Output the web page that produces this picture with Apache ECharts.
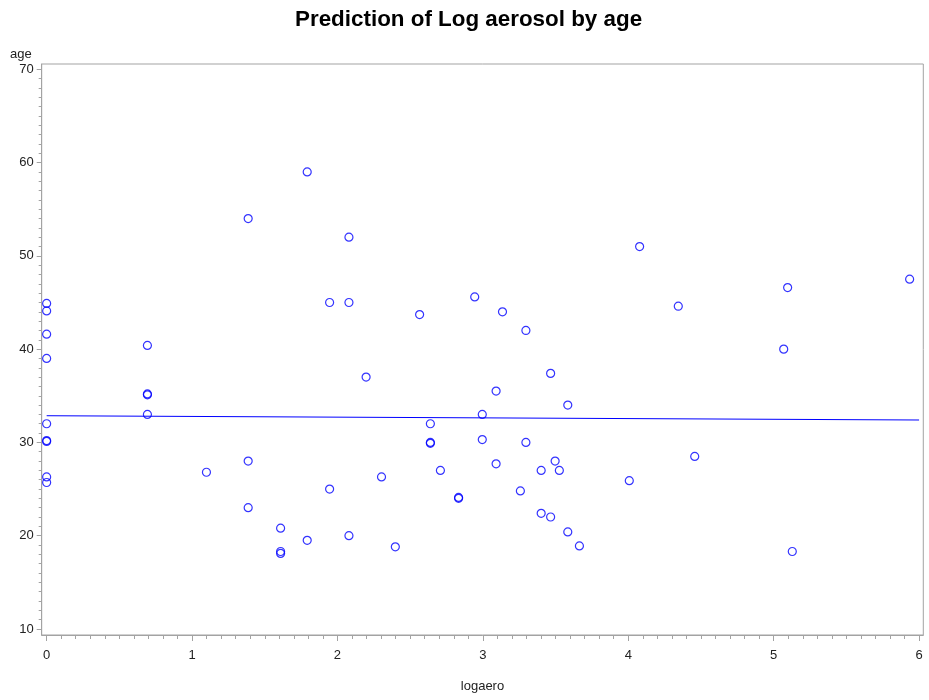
<!DOCTYPE html>
<html>
<head>
<meta charset="utf-8">
<script src="https://cdn.jsdelivr.net/npm/echarts@6/dist/echarts.min.js"></script>
<style>html,body{margin:0;padding:0;background:#fff}#c{width:929px;height:700px}</style>
</head>
<body>
<div id="c"></div>
<script>
// ---- data ----
const logaero = [
  0, 0, 0, 0, 0, 0, 0, 0, 0,
  0.693, 0.693, 0.693, 0.693,
  1.099,
  1.386, 1.386, 1.386,
  1.609, 1.609, 1.609,
  1.792, 1.792,
  1.946, 1.946,
  2.079, 2.079, 2.079,
  2.197, 2.303, 2.398, 2.565,
  2.639, 2.639, 2.639,
  2.708,
  2.833, 2.833,
  2.944,
  2.996, 2.996,
  3.091, 3.091,
  3.135, 3.258,
  3.296, 3.296,
  3.401, 3.401,
  3.466, 3.466,
  3.497, 3.526,
  3.584, 3.584,
  3.664, 4.007, 4.078, 4.344, 4.457,
  5.069, 5.096, 5.128, 5.935
];
const age = [
  44.9, 44.1, 41.6, 39.0, 32.0, 30.2, 30.1, 26.3, 25.7,
  40.4, 35.2, 35.1, 33.0,
  26.8,
  54.0, 28.0, 23.0,
  20.8, 18.3, 18.1,
  59.0, 19.5,
  45.0, 25.0,
  52.0, 45.0, 20.0,
  37.0, 26.3, 18.8, 43.7,
  32.0, 30.0, 29.9,
  27.0,
  24.0, 24.1,
  45.6,
  33.0, 30.3,
  35.5, 27.7,
  44.0, 24.8,
  42.0, 30.0,
  27.0, 22.4,
  37.4, 22.0,
  28.0, 27.0,
  34.0, 20.4,
  18.9, 25.9, 51.0, 44.6, 28.5,
  40.0, 46.6, 18.3, 47.5
];
const fitX = [0, 6];
const fitY = [32.86, 32.40];
const xTicks = [0, 1, 2, 3, 4, 5, 6];
const yTicks = [10, 20, 30, 40, 50, 60, 70];

// minor tick positions
const xMinor = [];
for (let i = 0; i <= 60; i++) xMinor.push(+(i / 10).toFixed(1));
const yMinor = [];
for (let v = 10; v <= 70; v++) yMinor.push(v);

const X_MIN = -0.034, X_MAX = 6.029, Y_MIN = 9.35, Y_MAX = 70.57;
const AXIS_COLOR = '#a3a3a3';
const FONT = '"Liberation Sans", Arial, sans-serif';

const chart = echarts.init(document.getElementById('c'), null, {renderer: 'canvas'});
chart.setOption({
  animation: false,
  backgroundColor: '#fff',
  title: [
    {text: 'Prediction of Log aerosol by age', left: 295, top: 9, padding: 0,
     textStyle: {fontFamily: FONT, fontSize: 22.4, fontWeight: 'bold', color: '#000'}},
    {text: 'age', left: 10, top: 48, padding: 0,
     textStyle: {fontFamily: FONT, fontSize: 13, fontWeight: 'normal', color: '#222'}}
  ],
  grid: {left: 41.7, right: 5.7, top: 64, bottom: 65, show: true,
         borderColor: AXIS_COLOR, borderWidth: 1, backgroundColor: 'transparent'},
  xAxis: [
    {type: 'value', min: X_MIN, max: X_MAX, position: 'bottom',
     name: 'logaero', nameLocation: 'middle', nameGap: 45,
     nameTextStyle: {fontFamily: FONT, fontSize: 13, color: '#222'},
     axisLine: {show: true, onZero: false, lineStyle: {color: AXIS_COLOR}},
     axisTick: {show: true, customValues: xTicks, length: 6, lineStyle: {color: AXIS_COLOR}},
     axisLabel: {customValues: xTicks, fontFamily: FONT, fontSize: 13, color: '#222', margin: 14},
     splitLine: {show: false}},
    {type: 'value', min: X_MIN, max: X_MAX, position: 'bottom',
     axisLine: {show: false, onZero: false},
     axisTick: {show: true, customValues: xMinor, length: 4, lineStyle: {color: AXIS_COLOR}},
     axisLabel: {show: false},
     splitLine: {show: false}}
  ],
  yAxis: [
    {type: 'value', min: Y_MIN, max: Y_MAX, position: 'left',
     axisLine: {show: true, onZero: false, lineStyle: {color: AXIS_COLOR}},
     axisTick: {show: true, customValues: yTicks, length: 5, lineStyle: {color: AXIS_COLOR}},
     axisLabel: {customValues: yTicks, fontFamily: FONT, fontSize: 13, color: '#222', margin: 8},
     splitLine: {show: false}},
    {type: 'value', min: Y_MIN, max: Y_MAX, position: 'left',
     axisLine: {show: false, onZero: false},
     axisTick: {show: true, customValues: yMinor, length: 3, lineStyle: {color: AXIS_COLOR}},
     axisLabel: {show: false},
     splitLine: {show: false}}
  ],
  series: [
    {type: 'line', xAxisIndex: 0, yAxisIndex: 0,
     data: fitX.map((x, i) => [x, fitY[i]]),
     symbol: 'none', lineStyle: {color: '#0000ff', width: 1}, z: 2},
    {type: 'scatter', xAxisIndex: 0, yAxisIndex: 0,
     data: logaero.map((x, i) => [x, age[i]]),
     symbol: 'circle', symbolSize: 8,
     itemStyle: {color: 'rgba(0,0,0,0)', borderColor: '#0000ff', borderWidth: 1.2}, z: 3}
  ]
});
</script>
</body>
</html>
